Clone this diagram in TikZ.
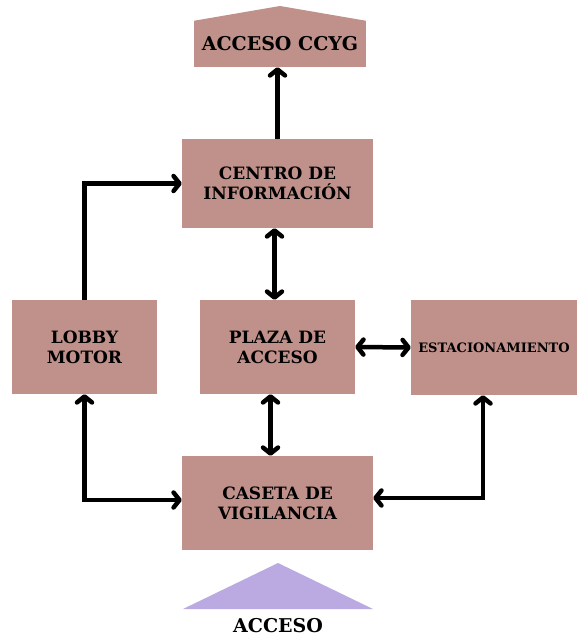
\documentclass[tikz,border=0pt]{standalone}
\usepackage{fontspec}
\setmainfont{DejaVu Serif}
\usepackage{tikz}
\usetikzlibrary{arrows.meta}
\definecolor{boxrose}{HTML}{BF918A}
\definecolor{lavender}{HTML}{BBA9E2}

\begin{document}
\begin{tikzpicture}[x=1pt, y=-1pt,
    box/.style={fill=boxrose, inner sep=0pt, align=center, font=\fontsize{17}{20}\selectfont\bfseries},
    link/.style={line width=4.5pt, {Straight Barb[length=6pt, width=15pt, line cap=round, line join=round]}-{Straight Barb[length=6pt, width=15pt, line cap=round, line join=round]}},
    onelink/.style={line width=4.5pt, -{Straight Barb[length=6pt, width=15pt, line cap=round, line join=round]}}]
    \useasboundingbox (0,0) rectangle (577,639);
    \node [box, minimum width=172, minimum height=46, font=\fontsize{19}{22}\selectfont\bfseries] (ccyg) at (280,44) {ACCESO CCYG};
    \fill [boxrose] (ccyg.north west) -- (280,6) -- (ccyg.north east) -- cycle;
    \node [box, minimum width=191, minimum height=89] (centro) at (277.5,183.5) {CENTRO DE\\INFORMACIÓN};
    \node [box, minimum width=145, minimum height=94] (lobby) at (84.5,347) {LOBBY\\MOTOR};
    \node [box, minimum width=155, minimum height=94] (plaza) at (277.5,347) {PLAZA DE\\ACCESO};
    \node [box, minimum width=166, minimum height=95, font=\fontsize{13}{15}\selectfont\bfseries] (estac) at (494,347.5) {ESTACIONAMIENTO};
    \node [box, minimum width=191, minimum height=94] (caseta) at (277.5,503) {CASETA DE\\VIGILANCIA};
    \fill [lavender] (183,609) -- (278,563) -- (373,609) -- cycle;
    \node [font=\fontsize{19}{22}\selectfont\bfseries, inner sep=0pt] (acceso) at (278,626) {ACCESO};
    \draw [onelink] (centro.north) -- (centro.north |- ccyg.south);
    \draw [onelink] (lobby.north) |- (centro.west);
    \draw [link] ([xshift=-3pt]centro.south) -- ([xshift=-3pt]plaza.north);
    \draw [link] (plaza.east) -- (estac.west);
    \draw [link] ([xshift=-7pt]plaza.south) -- ([xshift=-7pt]caseta.north);
    \draw [link] (lobby.south) |- ([yshift=3pt]caseta.west);
    \draw [link] ([xshift=-11pt]estac.south) |- ([yshift=5pt]caseta.east);
\end{tikzpicture}
\end{document}
